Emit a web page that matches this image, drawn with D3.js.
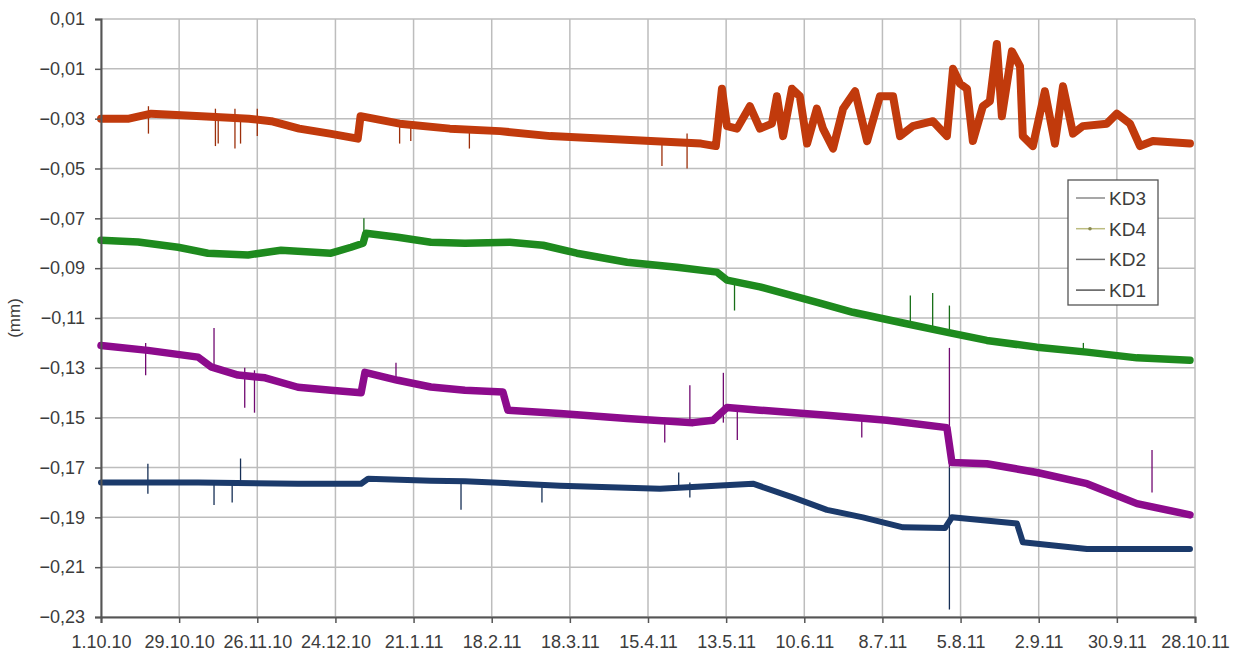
<!DOCTYPE html>
<html>
<head>
<meta charset="utf-8">
<script src="https://cdn.jsdelivr.net/npm/d3@7"></script>
<style>
  body { margin: 0; background: #fff; }
  svg text { font-family: "Liberation Sans", Arial, sans-serif; fill: #3c3c3c; }
</style>
</head>
<body>
<div id="chart"></div>
<script>
// day offsets from 1.10.10, values in mm
var kd3 = [[0,-0.030],[10,-0.030],[18,-0.028],[36,-0.029],[53,-0.030],[61,-0.031],[71,-0.034],[82,-0.036],[92,-0.038],[93,-0.029],
  [107,-0.032],[125,-0.034],[143,-0.035],[161,-0.037],[179,-0.038],[197,-0.039],[215,-0.040],[220.3,-0.041],[222.5,-0.018],[224.3,-0.033],
  [227.9,-0.034],[232.5,-0.025],[236.1,-0.034],[240.4,-0.032],[242.2,-0.021],[244.4,-0.037],[247.6,-0.018],[250.4,-0.021],[253,-0.040],
  [256.5,-0.026],[258.7,-0.034],[262.3,-0.042],[265.9,-0.026],[270.2,-0.019],[274.5,-0.039],[279.1,-0.021],[283.8,-0.021],[286.3,-0.037],
  [290.9,-0.033],[298.1,-0.031],[303.1,-0.037],[305.3,-0.010],[307.8,-0.016],[310.3,-0.018],[312.4,-0.039],[316,-0.025],[318.5,-0.023],
  [321,0.000],[322.8,-0.029],[326.4,-0.003],[329.3,-0.009],[330.3,-0.037],[333.9,-0.041],[338.2,-0.019],[341.8,-0.040],[344.7,-0.017],
  [348.3,-0.036],[351.8,-0.033],[360.4,-0.032],[364,-0.028],[368.7,-0.032],[372.3,-0.041],[376.9,-0.039],[390.2,-0.040]];
var kd4 = [[0,-0.0788],[13.3,-0.0795],[27.6,-0.0816],[38.3,-0.084],[52.7,-0.0847],[64.5,-0.0828],[82.4,-0.084],[89.6,-0.0816],[93.9,-0.080],
  [94.9,-0.076],[106.4,-0.0776],[118.2,-0.0796],[130.4,-0.080],[146.5,-0.0796],[158.4,-0.0808],[170.5,-0.084],[188.5,-0.0876],[206.4,-0.0896],
  [220.7,-0.0916],[224.3,-0.0948],[236.1,-0.0975],[257.6,-0.104],[269.4,-0.1077],[287.4,-0.112],[304.2,-0.116],[317.4,-0.119],
  [335.4,-0.1217],[353.3,-0.1237],[371.2,-0.126],[390.2,-0.127]];
var kd2 = [[0,-0.121],[16.8,-0.123],[34.8,-0.1257],[39.4,-0.1296],[49.1,-0.1329],[58.8,-0.134],[70.6,-0.1378],[82.4,-0.139],[93.2,-0.140],
  [94.6,-0.1318],[106.4,-0.135],[118.2,-0.1377],[130.4,-0.139],[144,-0.1397],[145.8,-0.147],[164.5,-0.1483],[188.5,-0.1503],[212.1,-0.152],
  [219.3,-0.151],[224.3,-0.1459],[236.1,-0.147],[260.1,-0.149],[281.6,-0.151],[303.1,-0.154],[304.9,-0.168],[317.4,-0.1685],
  [335.4,-0.172],[353.3,-0.1765],[371.2,-0.1845],[390.2,-0.189]];
var kd1 = [[0,-0.176],[34.8,-0.176],[70.6,-0.1765],[93.2,-0.1765],[95.7,-0.1745],[118.2,-0.1753],[130.4,-0.1755],[164.5,-0.1773],
  [200.3,-0.1785],[233.6,-0.1765],[247.9,-0.182],[260.1,-0.187],[273,-0.190],[287.4,-0.194],[302.4,-0.1943],[304.9,-0.190],
  [328.2,-0.1925],[330.3,-0.200],[353.3,-0.2027],[390.2,-0.2027]];

// single outlier readings: [day, low, high]
var kd3Spikes = [[17,-0.036,-0.025],[41,-0.041,-0.026],[42,-0.040,-0.030],[48,-0.042,-0.026],[50,-0.040,-0.030],[56,-0.037,-0.026],
  [107,-0.040,-0.031],[111,-0.039,-0.031],[132,-0.042,-0.033],[201,-0.049,-0.038],[210,-0.050,-0.036]];
var kd4Spikes = [[94.2,-0.080,-0.070],[227,-0.107,-0.094],[290,-0.113,-0.101],[298,-0.114,-0.100],[304,-0.116,-0.105],[352,-0.124,-0.120]];
var kd2Spikes = [[16,-0.133,-0.120],[40.5,-0.130,-0.114],[51.5,-0.146,-0.130],[55,-0.148,-0.131],[105.7,-0.136,-0.128],[202,-0.160,-0.150],
  [211,-0.152,-0.137],[223,-0.152,-0.132],[228,-0.159,-0.147],[272.6,-0.158,-0.150],[304,-0.170,-0.122],[376.6,-0.180,-0.163]];
var kd1Spikes = [[16.8,-0.1805,-0.1685],[40.5,-0.185,-0.176],[47,-0.184,-0.176],[50,-0.177,-0.1664],[129,-0.187,-0.176],
  [158,-0.184,-0.177],[207,-0.178,-0.172],[211,-0.182,-0.176],[304,-0.227,-0.170]];

var seriesNames = ["KD3", "KD4", "KD2", "KD1"];
var xTickLabels = ["1.10.10","29.10.10","26.11.10","24.12.10","21.1.11","18.2.11","18.3.11","15.4.11","13.5.11","10.6.11","8.7.11","5.8.11","2.9.11","30.9.11","28.10.11"];
var yTicks = [0.01,-0.01,-0.03,-0.05,-0.07,-0.09,-0.11,-0.13,-0.15,-0.17,-0.19,-0.21,-0.23];

var series = [
  {name: "KD3", data: kd3, spikes: kd3Spikes, color: "#c13a0c", width: 8, legend: "#8a8a8a"},
  {name: "KD4", data: kd4, spikes: kd4Spikes, color: "#1e8a1e", width: 7.5, legend: "#bcbc80"},
  {name: "KD2", data: kd2, spikes: kd2Spikes, color: "#8c0b8c", width: 7.5, legend: "#707070"},
  {name: "KD1", data: kd1, spikes: kd1Spikes, color: "#1b3a6b", width: 6, legend: "#555555"}
];

var W = 1235, H = 654;
var margin = {top: 19, right: 40, bottom: 37, left: 101};

var parseTick = d3.utcParse("%d.%m.%y");
var start = parseTick(xTickLabels[0]);
function dayDate(d) { return new Date(start.getTime() + d * 864e5); }

var svg = d3.select("#chart").append("svg")
  .attr("width", W).attr("height", H);

var x = d3.scaleUtc()
  .domain([start, parseTick(xTickLabels[xTickLabels.length - 1])])
  .range([margin.left, W - margin.right]);
var y = d3.scaleLinear()
  .domain([-0.23, 0.01])
  .range([H - margin.bottom, margin.top]);

var tickDates = xTickLabels.map(parseTick);

// grid
svg.append("g").selectAll("line").data(tickDates).enter().append("line")
  .attr("x1", d => x(d)).attr("x2", d => x(d))
  .attr("y1", y(0.01)).attr("y2", y(-0.23))
  .attr("stroke", "#bdbdbd").attr("stroke-width", 1.5);
svg.append("g").selectAll("line").data(yTicks).enter().append("line")
  .attr("x1", x.range()[0]).attr("x2", x.range()[1])
  .attr("y1", d => y(d)).attr("y2", d => y(d))
  .attr("stroke", "#bdbdbd").attr("stroke-width", 1.5);

// series
var line = d3.line()
  .x(d => x(dayDate(d[0])))
  .y(d => y(d[1]));

series.forEach(function(s) {
  var g = svg.append("g");
  g.selectAll("line").data(s.spikes).enter().append("line")
    .attr("x1", d => x(dayDate(d[0]))).attr("x2", d => x(dayDate(d[0])))
    .attr("y1", d => y(d[1])).attr("y2", d => y(d[2]))
    .attr("stroke", d3.color(s.color).darker(0.6)).attr("stroke-width", 1.3);
  g.append("path").datum(s.data)
    .attr("d", line)
    .attr("fill", "none")
    .attr("stroke", s.color)
    .attr("stroke-width", s.width)
    .attr("stroke-linejoin", "round")
    .attr("stroke-linecap", "round");
});

// axes
var fmt = d3.format(".2f");
var yAxis = svg.append("g")
  .attr("transform", "translate(" + margin.left + ",0)")
  .call(d3.axisLeft(y).tickValues(yTicks).tickSize(6).tickPadding(10)
    .tickFormat(d => fmt(d).replace(".", ",")));
var xAxis = svg.append("g")
  .attr("transform", "translate(0," + (H - margin.bottom) + ")")
  .call(d3.axisBottom(x).tickValues(tickDates).tickSize(6).tickPadding(12)
    .tickFormat((d, i) => xTickLabels[i]));
[yAxis, xAxis].forEach(function(a) {
  a.select(".domain").attr("stroke", "#555").attr("stroke-width", 2);
  a.selectAll(".tick line").attr("stroke", "#555").attr("stroke-width", 1.5);
  a.selectAll("text").attr("font-size", 18).attr("fill", "#3c3c3c")
    .attr("font-family", "'Liberation Sans', Arial, sans-serif");
});

svg.append("text")
  .attr("transform", "translate(20," + y(-0.11) + ") rotate(-90)")
  .attr("text-anchor", "middle")
  .attr("font-size", 17)
  .text("(mm)");

// legend
var lg = svg.append("g").attr("transform", "translate(1068,180)");
lg.append("rect").attr("width", 90).attr("height", 125)
  .attr("fill", "#fff").attr("stroke", "#555").attr("stroke-width", 1.3);
var item = lg.selectAll("g.item").data(series).enter().append("g")
  .attr("class", "item")
  .attr("transform", (d, i) => "translate(0," + (18 + i * 30.7) + ")");
item.append("line").attr("x1", 8).attr("x2", 37)
  .attr("stroke", d => d.legend).attr("stroke-width", 1.5);
item.filter(d => d.name === "KD4").append("circle")
  .attr("cx", 22).attr("r", 1.8).attr("fill", "#8a8a50");
item.append("text").attr("x", 41).attr("dy", "0.36em")
  .attr("font-size", 19).attr("fill", "#444")
  .text(d => d.name);
</script>
</body>
</html>
